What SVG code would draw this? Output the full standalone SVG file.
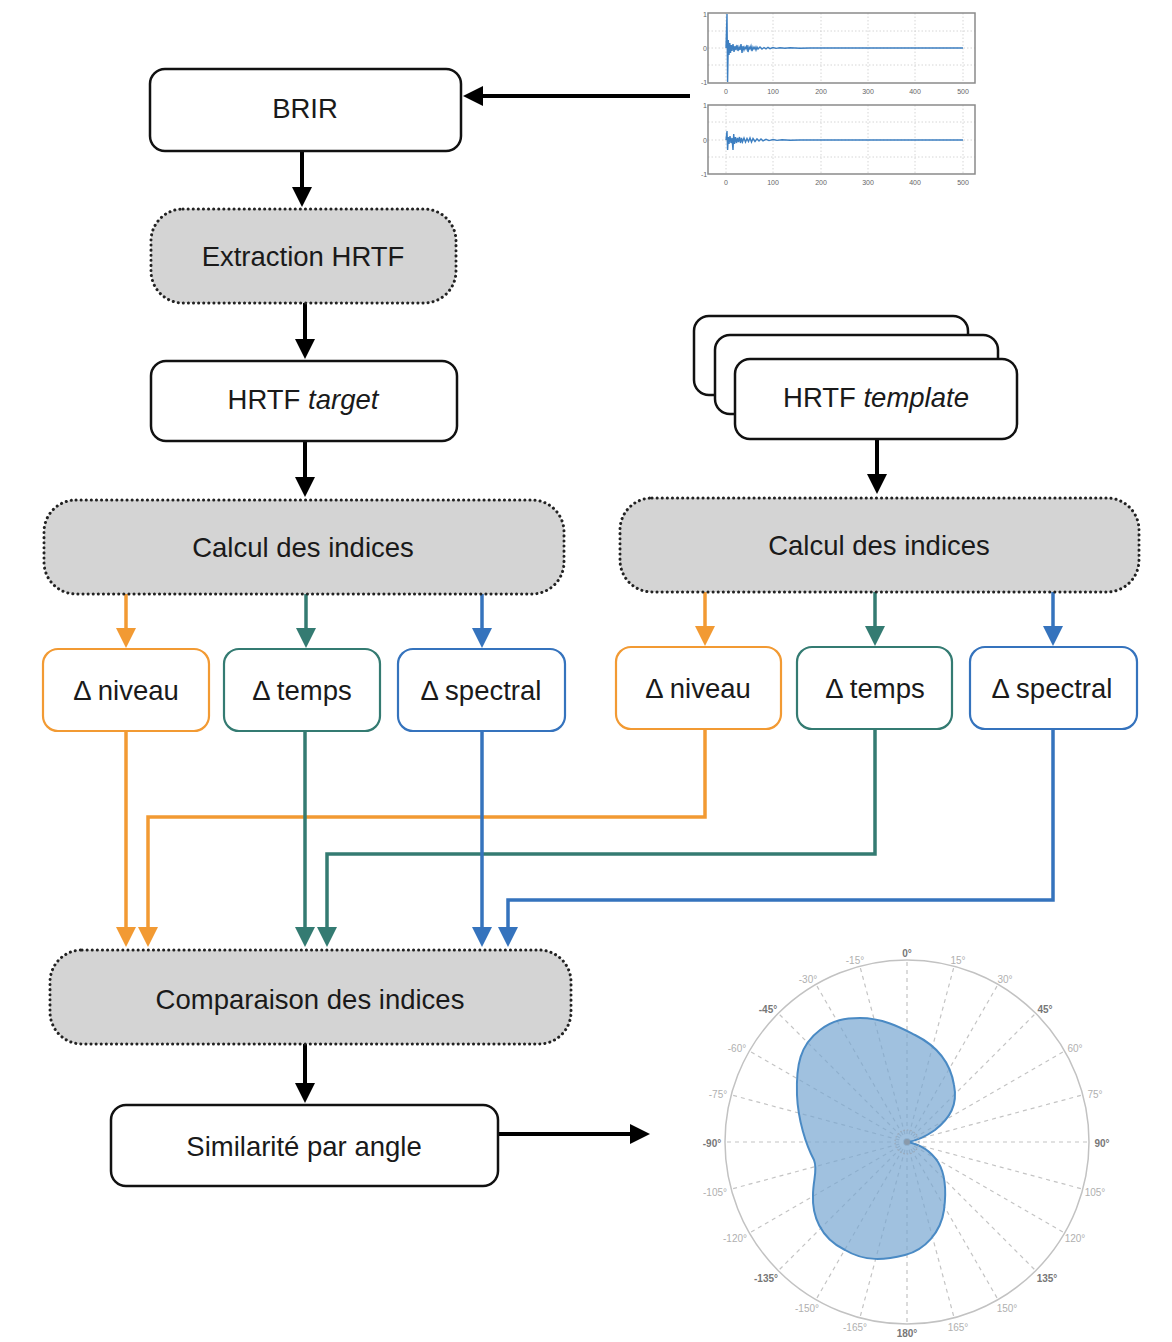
<svg xmlns="http://www.w3.org/2000/svg" width="1172" height="1342" viewBox="0 0 1172 1342">
<style>
  .lbl { font-family: "Liberation Sans", Arial, Helvetica, sans-serif; font-size: 27.5px; fill: #1a1a1a; text-anchor: middle; dominant-baseline: central; }
  .box { fill: #ffffff; stroke: #111111; stroke-width: 2.5; }
  .proc { fill: #d4d4d4; stroke: #222222; stroke-width: 3; stroke-dasharray: 0.1 5; stroke-linecap: round; }
  .orange { stroke: #f29a33; }
  .teal { stroke: #347b72; }
  .blue { stroke: #3573bd; }
  .cbox { fill: #ffffff; stroke-width: 2.2; }
  .wire { fill: none; stroke-width: 3.5; }
  .bwire { fill: none; stroke: #000000; stroke-width: 4; }
  .tick { font-family: "Liberation Sans", Arial, sans-serif; font-size: 7px; fill: #666666; text-anchor: middle; dominant-baseline: central; }
  .pl { font-family: "Liberation Sans", Arial, sans-serif; font-size: 10px; fill: #b0b0b0; text-anchor: middle; dominant-baseline: central; }
  .pl2 { font-family: "Liberation Sans", Arial, sans-serif; font-size: 10px; fill: #777777; font-weight: bold; text-anchor: middle; dominant-baseline: central; }
  .grid { stroke: #cccccc; stroke-width: 0.8; stroke-dasharray: 1.5 2; fill: none; }
  .rad { stroke: #c4c4c4; stroke-width: 1.2; stroke-dasharray: 4 4; fill: none; }
</style>
<defs>
  <marker id="ab" viewBox="0 0 20 20" refX="0" refY="10" markerWidth="20" markerHeight="20" markerUnits="userSpaceOnUse" orient="auto"><path d="M0,0 L20,10 L0,20 Z" fill="#000000"/></marker>
  <marker id="ao" viewBox="0 0 20 20" refX="0" refY="10" markerWidth="20" markerHeight="20" markerUnits="userSpaceOnUse" orient="auto"><path d="M0,0 L20,10 L0,20 Z" fill="#f29a33"/></marker>
  <marker id="at" viewBox="0 0 20 20" refX="0" refY="10" markerWidth="20" markerHeight="20" markerUnits="userSpaceOnUse" orient="auto"><path d="M0,0 L20,10 L0,20 Z" fill="#347b72"/></marker>
  <marker id="abl" viewBox="0 0 20 20" refX="0" refY="10" markerWidth="20" markerHeight="20" markerUnits="userSpaceOnUse" orient="auto"><path d="M0,0 L20,10 L0,20 Z" fill="#3573bd"/></marker>
</defs>
<rect x="0" y="0" width="1172" height="1342" fill="#ffffff"/>

<!-- waveform plots -->
<g id="waveform">
  <g class="grid">
    <path d="M726,13 V83 M773,13 V83 M821,13 V83 M868,13 V83 M915,13 V83 M963,13 V83 M708,31 H975 M708,48 H975 M708,65 H975"/>
    <path d="M726,105 V174 M773,105 V174 M821,105 V174 M868,105 V174 M915,105 V174 M963,105 V174 M708,122 H975 M708,140 H975 M708,157 H975"/>
  </g>
  <polyline fill="none" stroke="#3d7fc1" stroke-width="1.4" points="726,48 727,14 727.6,82 728.3,40 729,55 729.8,43 730.5,53 731.3,45 732,51 733,44 734,52 735,46 736,50 737,45 738,51 739,47 740,50 741,44 742,53 743,46 744,50 745,47 746,49 747,45 748,52 749,47 750,49 751,46 752,51 753,47 754,49 755,47 756,50 757,47 758,49 760,47 762,49 764,47.5 766,48.8 768,47.3 770,48.6 773,47.5 776,48.4 780,47.7 785,48.3 790,47.8 800,48.2 810,48 963,48"/>
  <polyline fill="none" stroke="#3d7fc1" stroke-width="1.4" points="726,140 727,131 727.6,150 728.3,137 729,144 730,136 731,143 732,138 733,150 733.7,134 734.5,144 735.5,137 736.5,143 737.5,138 738.5,142 739.5,137 740.5,143 741.5,138 742.5,142 744,138 745.5,142 747,138.5 748.5,141.5 750,138 751.5,142 753,138.5 755,141.5 757,138.8 759,141 761,139 763,140.8 766,139.3 769,140.6 773,139.5 777,140.4 782,139.7 790,140.2 800,140 963,140"/>
  <rect x="708" y="13" width="267" height="70" fill="none" stroke="#8a8a8a" stroke-width="1.5"/>
  <rect x="708" y="105" width="267" height="69" fill="none" stroke="#8a8a8a" stroke-width="1.5"/>
  <text class="tick" x="705" y="14">1</text>
  <text class="tick" x="705" y="48">0</text>
  <text class="tick" x="704" y="82">-1</text>
  <text class="tick" x="726" y="91">0</text>
  <text class="tick" x="773" y="91">100</text>
  <text class="tick" x="821" y="91">200</text>
  <text class="tick" x="868" y="91">300</text>
  <text class="tick" x="915" y="91">400</text>
  <text class="tick" x="963" y="91">500</text>
  <text class="tick" x="705" y="105">1</text>
  <text class="tick" x="705" y="140">0</text>
  <text class="tick" x="704" y="174">-1</text>
  <text class="tick" x="726" y="182">0</text>
  <text class="tick" x="773" y="182">100</text>
  <text class="tick" x="821" y="182">200</text>
  <text class="tick" x="868" y="182">300</text>
  <text class="tick" x="915" y="182">400</text>
  <text class="tick" x="963" y="182">500</text>
</g>

<!-- polar plot -->
<g id="polar">
  <g class="rad" transform="translate(907,1142)">
    <path d="M0,0 L0,-182 M0,0 L0,182 M0,0 L-182,0 M0,0 L182,0"/>
    <path d="M0,0 L47.1,-175.8 M0,0 L91,-157.6 M0,0 L128.7,-128.7 M0,0 L157.6,-91 M0,0 L175.8,-47.1"/>
    <path d="M0,0 L175.8,47.1 M0,0 L157.6,91 M0,0 L128.7,128.7 M0,0 L91,157.6 M0,0 L47.1,175.8"/>
    <path d="M0,0 L-47.1,175.8 M0,0 L-91,157.6 M0,0 L-128.7,128.7 M0,0 L-157.6,91 M0,0 L-175.8,47.1"/>
    <path d="M0,0 L-175.8,-47.1 M0,0 L-157.6,-91 M0,0 L-128.7,-128.7 M0,0 L-91,-157.6 M0,0 L-47.1,-175.8"/>
  </g>
  <path d="M860,1018 C885,1018 905,1030 915,1035 C935,1045 950,1060 954,1085 C958,1105 950,1118 935,1130 C925,1137 915,1141 908,1142 C918,1144 930,1150 938,1162 C946,1175 946,1195 944,1210 C941,1232 925,1250 905,1255 C885,1260 865,1262 845,1250 C820,1238 812,1215 813,1195 C813,1180 818,1170 814,1160 C806,1145 798,1120 797,1095 C796,1065 800,1045 820,1030 C833,1020 845,1018 860,1018 Z" fill="#77a7d2" fill-opacity="0.7" stroke="#4a8ac4" stroke-width="2"/>
  <circle cx="907" cy="1142" r="12" fill="none" stroke="#9aa8b8" stroke-width="1.2" stroke-dasharray="1.5 2"/>
  <circle cx="907" cy="1142" r="3" fill="#8a9aab"/>
  <circle cx="907" cy="1142" r="182" fill="none" stroke="#c2c2c2" stroke-width="1.5"/>
  <text class="pl2" x="907" y="953">0°</text>
  <text class="pl" x="958" y="960">15°</text>
  <text class="pl" x="1005" y="979">30°</text>
  <text class="pl2" x="1045" y="1009">45°</text>
  <text class="pl" x="1075" y="1048">60°</text>
  <text class="pl" x="1095" y="1094">75°</text>
  <text class="pl2" x="1102" y="1143">90°</text>
  <text class="pl" x="1095" y="1192">105°</text>
  <text class="pl" x="1075" y="1238">120°</text>
  <text class="pl2" x="1047" y="1278">135°</text>
  <text class="pl" x="1007" y="1308">150°</text>
  <text class="pl" x="958" y="1327">165°</text>
  <text class="pl2" x="907" y="1333">180°</text>
  <text class="pl" x="855" y="1327">-165°</text>
  <text class="pl" x="807" y="1308">-150°</text>
  <text class="pl2" x="766" y="1278">-135°</text>
  <text class="pl" x="735" y="1238">-120°</text>
  <text class="pl" x="715" y="1192">-105°</text>
  <text class="pl2" x="712" y="1143">-90°</text>
  <text class="pl" x="718" y="1094">-75°</text>
  <text class="pl" x="737" y="1048">-60°</text>
  <text class="pl2" x="768" y="1009">-45°</text>
  <text class="pl" x="808" y="979">-30°</text>
  <text class="pl" x="855" y="960">-15°</text>
</g>

<!-- connectors -->
<g id="connectors">
  <path class="bwire" d="M690,96 H483" marker-end="url(#ab)"/>
  <path class="bwire" d="M302,151 V187" marker-end="url(#ab)"/>
  <path class="bwire" d="M305,303 V339" marker-end="url(#ab)"/>
  <path class="bwire" d="M305,441 V477" marker-end="url(#ab)"/>
  <path class="bwire" d="M877,439 V474" marker-end="url(#ab)"/>
  <path class="bwire" d="M305,1044 V1083" marker-end="url(#ab)"/>
  <path class="bwire" d="M498,1134 H630" marker-end="url(#ab)"/>

  <path class="wire orange" d="M126,594 V628" marker-end="url(#ao)"/>
  <path class="wire teal" d="M306,594 V628" marker-end="url(#at)"/>
  <path class="wire blue" d="M482,594 V628" marker-end="url(#abl)"/>
  <path class="wire orange" d="M705,592 V626" marker-end="url(#ao)"/>
  <path class="wire teal" d="M875,592 V626" marker-end="url(#at)"/>
  <path class="wire blue" d="M1053,592 V626" marker-end="url(#abl)"/>

  <path class="wire orange" d="M126,731 V927" marker-end="url(#ao)"/>
  <path class="wire orange" d="M705,729 V817 H148 V927" marker-end="url(#ao)"/>
  <path class="wire teal" d="M305,731 V927" marker-end="url(#at)"/>
  <path class="wire teal" d="M875,729 V854 H327 V927" marker-end="url(#at)"/>
  <path class="wire blue" d="M482,731 V927" marker-end="url(#abl)"/>
  <path class="wire blue" d="M1053,729 V900 H508 V927" marker-end="url(#abl)"/>
</g>

<!-- nodes -->
<g id="brir">
  <rect class="box" x="150" y="69" width="311" height="82" rx="15"/>
  <text class="lbl" x="305" y="108">BRIR</text>
</g>
<g id="extraction">
  <rect class="proc" x="151" y="209" width="305" height="94" rx="32"/>
  <text class="lbl" x="303" y="256">Extraction HRTF</text>
</g>
<g id="hrtf-target">
  <rect class="box" x="151" y="361" width="306" height="80" rx="15"/>
  <text class="lbl" x="303" y="399">HRTF <tspan font-style="italic">target</tspan></text>
</g>
<g id="hrtf-template">
  <rect class="box" x="694" y="316" width="274" height="79" rx="15"/>
  <rect class="box" x="715" y="335" width="283" height="79" rx="15"/>
  <rect class="box" x="735" y="359" width="282" height="80" rx="15"/>
  <text class="lbl" x="876" y="397">HRTF <tspan font-style="italic">template</tspan></text>
</g>
<g id="calcul-left">
  <rect class="proc" x="44" y="500" width="520" height="94" rx="32"/>
  <text class="lbl" x="303" y="547">Calcul des indices</text>
</g>
<g id="calcul-right">
  <rect class="proc" x="620" y="498" width="519" height="94" rx="32"/>
  <text class="lbl" x="879" y="545">Calcul des indices</text>
</g>
<g id="niveau-left">
  <rect class="cbox orange" x="43" y="649" width="166" height="82" rx="15"/>
  <text class="lbl" x="126" y="690">Δ niveau</text>
</g>
<g id="temps-left">
  <rect class="cbox teal" x="224" y="649" width="156" height="82" rx="15"/>
  <text class="lbl" x="302" y="690">Δ temps</text>
</g>
<g id="spectral-left">
  <rect class="cbox blue" x="398" y="649" width="167" height="82" rx="15"/>
  <text class="lbl" x="481" y="690">Δ spectral</text>
</g>
<g id="niveau-right">
  <rect class="cbox orange" x="616" y="647" width="165" height="82" rx="15"/>
  <text class="lbl" x="698" y="688">Δ niveau</text>
</g>
<g id="temps-right">
  <rect class="cbox teal" x="797" y="647" width="155" height="82" rx="15"/>
  <text class="lbl" x="875" y="688">Δ temps</text>
</g>
<g id="spectral-right">
  <rect class="cbox blue" x="970" y="647" width="167" height="82" rx="15"/>
  <text class="lbl" x="1052" y="688">Δ spectral</text>
</g>
<g id="comparaison">
  <rect class="proc" x="50" y="950" width="521" height="94" rx="32"/>
  <text class="lbl" x="310" y="999">Comparaison des indices</text>
</g>
<g id="similarite">
  <rect class="box" x="111" y="1105" width="387" height="81" rx="15"/>
  <text class="lbl" x="304" y="1146">Similarité par angle</text>
</g>
</svg>
